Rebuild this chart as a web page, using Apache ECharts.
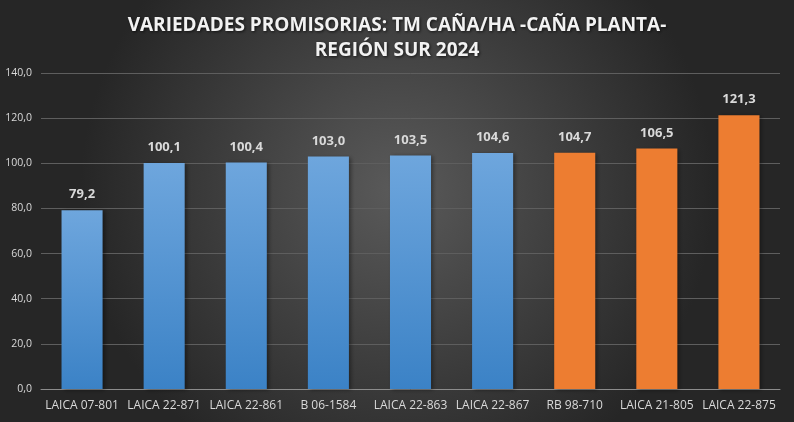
<style>body { margin: 0; }</style>
<div id="main" style="width: 794px; height: 422px"></div>
<script src="https://cdn.jsdelivr.net/npm/echarts@6/dist/echarts.min.js"></script>
<script>
  var chartDom = document.getElementById('main');
  var myChart = echarts.init(chartDom);
  var option;

  const categories = ['LAICA 07-801', 'LAICA 22-871', 'LAICA 22-861', 'B 06-1584', 'LAICA 22-863', 'LAICA 22-867', 'RB 98-710', 'LAICA 21-805', 'LAICA 22-875'];
  const values = [79.2, 100.1, 100.4, 103.0, 103.5, 104.6, 104.7, 106.5, 121.3];
  const highlighted = [false, false, false, false, false, false, true, true, true];

  const blue = new echarts.graphic.LinearGradient(0, 0, 0, 1, [
    { offset: 0, color: '#6ea6dd' },
    { offset: 1, color: '#3b82c6' },
  ]);
  const orange = '#ed7d31';

  const fmt = (v) => v.toFixed(1).replace('.', ',');

  option = {
    backgroundColor: new echarts.graphic.RadialGradient(0.5, 0.45, 0.75, [
      { offset: 0, color: '#5a5a5a' },
      { offset: 1, color: '#262626' },
    ]),
    title: {
      left: 'center',
      top: 8,
      text: 'VARIEDADES PROMISORIAS: TM CAÑA/HA -CAÑA PLANTA-\nREGIÓN SUR 2024',
      textStyle: {
        color: '#f2f2f2',
        fontFamily: 'Open Sans',
        fontWeight: 'bold',
        fontSize: 19,
        lineHeight: 25,
        textShadowColor: 'rgba(0,0,0,0.7)',
        textShadowBlur: 3,
        textShadowOffsetX: 1,
        textShadowOffsetY: 1,
      },
    },
    grid: { left: 41, right: 14, top: 73, bottom: 33 },
    xAxis: {
      type: 'category',
      data: categories,
      axisTick: { show: false },
      axisLine: { lineStyle: { color: '#8c8c8c', width: 1 } },
      axisLabel: { color: '#d9d9d9', fontSize: 12, fontFamily: 'Open Sans', margin: 11, interval: 0 },
    },
    yAxis: {
      type: 'value',
      min: 0,
      max: 140,
      interval: 20,
      axisLine: { show: false },
      axisLabel: { color: '#d9d9d9', fontSize: 10.5, fontFamily: 'Open Sans', formatter: fmt, margin: 9 },
      splitLine: { lineStyle: { color: '#5e5e5e' } },
    },
    series: [
      {
        type: 'bar',
        barWidth: '50%',
        data: values.map((v, i) => ({
          value: v,
          itemStyle: {
            color: highlighted[i] ? orange : blue,
            shadowColor: 'rgba(0,0,0,0.4)',
            shadowBlur: 4,
            shadowOffsetX: 2,
            shadowOffsetY: 1,
          },
        })),
        label: {
          show: true,
          position: 'top',
          distance: 9,
          color: '#d9d9d9',
          fontWeight: 'bold',
          fontSize: 13,
          fontFamily: 'Open Sans',
          formatter: (p) => fmt(p.value),
        },
      },
    ],
    animation: false,
  };

  option && myChart.setOption(option);

  window.onresize = function () {
    myChart.resize();
  };
</script>
